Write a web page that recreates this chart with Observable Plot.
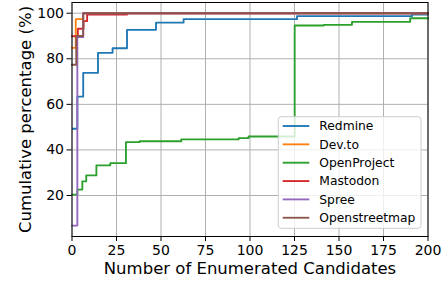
<!DOCTYPE html>
<html>
<head>
<meta charset="utf-8">
<script src="https://cdn.jsdelivr.net/npm/d3@7"></script>
<script src="https://cdn.jsdelivr.net/npm/@observablehq/plot@0.6"></script>
<style>
  html, body { margin: 0; padding: 0; background: white; }
</style>
</head>
<body>
<div id="chart"></div>
<script>
const seriesNames = ["Redmine", "Dev.to", "OpenProject", "Mastodon", "Spree", "Openstreetmap"];
const seriesColors = ["#1f77b4", "#ff7f0e", "#2ca02c", "#d62728", "#9467bd", "#8c564b"];

const redmineX = [0.5, 3.0, 6.3, 14.6, 22.8, 30.9, 47.2, 62.7, 126.4, 191, 200];
const redmineY = [49.3, 63.4, 73.8, 82.6, 84.6, 92.7, 95.9, 97.4, 98.7, 99.4, 99.4];

const devtoX = [0, 2.1, 6.3, 200];
const devtoY = [84.8, 97.4, 100, 100];

const openprojectX = [0, 3.0, 5.8, 8.0, 13.7, 21.5, 30.3, 38, 61.4, 93.6, 99.2, 125.1, 141.4, 157.3, 190, 200];
const openprojectY = [20.4, 22.6, 26.2, 28.8, 33.2, 34.2, 43.4, 43.8, 44.6, 45.2, 45.9, 94.6, 94.9, 96.2, 97.8, 97.8];

const mastodonX = [0, 3.3, 6.5, 8.5, 31, 200];
const mastodonY = [89.9, 93.2, 96.5, 99.4, 100, 100];

const spreeX = [0, 3.0, 6.3, 200];
const spreeY = [6.8, 89.5, 100, 100];

const osmX = [0, 2.4, 6.3, 200];
const osmY = [77.4, 90.0, 100, 100];

const xTicks = [0, 25, 50, 75, 100, 125, 150, 175, 200];
const yTicks = [20, 40, 60, 80, 100];

const xLabel = "Number of Enumerated Candidates";
const yLabel = "Cumulative percentage (%)";

const seriesXs = [redmineX, devtoX, openprojectX, mastodonX, spreeX, osmX];
const seriesYs = [redmineY, devtoY, openprojectY, mastodonY, spreeY, osmY];

const tables = seriesNames.map((name, i) =>
  seriesXs[i].map((x, j) => ({series: name, x, y: seriesYs[i][j]}))
);

const font = "DejaVu Sans, sans-serif";

const svg = Plot.plot({
  width: 445,
  height: 281,
  marginLeft: 71.5,
  marginRight: 17.5,
  marginTop: 2,
  marginBottom: 45,
  style: {fontFamily: font, fontSize: "14px", background: "white", color: "black"},
  x: {domain: [0, 200], ticks: xTicks},
  y: {domain: [2.0, 104.7], ticks: yTicks},
  color: {domain: seriesNames, range: seriesColors},
  marks: [
    Plot.ruleX(xTicks, {x: d => d, stroke: "#b0b0b0", strokeWidth: 1}),
    Plot.ruleY(yTicks, {y: d => d, stroke: "#b0b0b0", strokeWidth: 1}),
    ...tables.map(t => Plot.line(t, {
      x: "x", y: "y", stroke: "series", curve: "step-after",
      strokeWidth: 1.85, strokeLinejoin: "round", strokeLinecap: "square"
    })),
    Plot.frame({stroke: "black", strokeWidth: 1}),
    Plot.axisX(xTicks, {tickSize: 5, tickPadding: 3.5, fontSize: 14, label: null}),
    Plot.axisY(yTicks, {tickSize: 5, tickPadding: 3, fontSize: 14, label: null}),
    Plot.text([xLabel], {frameAnchor: "bottom", dy: 37.3, lineAnchor: "bottom", fontSize: 16.5, fill: "black", textAnchor: "middle"}),
    Plot.text([yLabel], {frameAnchor: "left", dx: -46.5, rotate: -90, fontSize: 16.5, fill: "black", textAnchor: "middle"})
  ]
});

// Legend (matplotlib-style) drawn inside the SVG
const lg = d3.select(svg).append("g")
  .attr("font-family", font).attr("font-size", 12.3).attr("text-anchor", "start");
lg.append("rect")
  .attr("x", 278.3).attr("y", 116.7)
  .attr("width", 142.7).attr("height", 111.6)
  .attr("rx", 3).attr("ry", 3)
  .style("fill", "rgba(255,255,255,0.8)")
  .style("stroke", "#cccccc").style("stroke-width", "1px");
seriesNames.forEach((name, i) => {
  const cy = 126 + i * 18.35;
  lg.append("line")
    .attr("x1", 282.7).attr("x2", 309.3)
    .attr("y1", cy).attr("y2", cy)
    .style("stroke", seriesColors[i]).style("stroke-width", "1.85px");
  lg.append("text")
    .attr("x", 319.3).attr("y", cy).attr("dy", "0.35em")
    .attr("text-anchor", "start")
    .style("fill", "black")
    .text(name);
});

document.getElementById("chart").appendChild(svg);
</script>
</body>
</html>
